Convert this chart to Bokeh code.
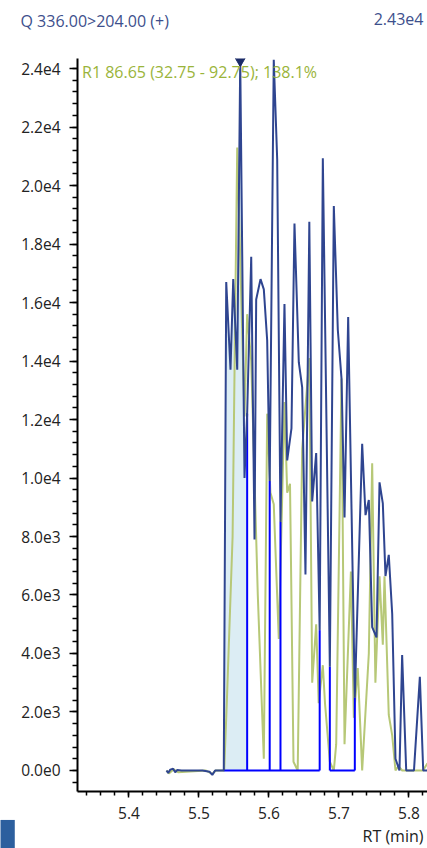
import math
from bokeh.plotting import figure
from bokeh.models import Range1d, FixedTicker, Label
from bokeh.embed import file_html
from bokeh.resources import INLINE

# ---------------- data ----------------
rt_blue = [5.4536, 5.4560, 5.4590, 5.4630, 5.4660, 5.4690, 5.4750, 5.4900, 5.5050, 5.5150,
           5.5190, 5.5230, 5.5354, 5.5389, 5.5450, 5.5489, 5.5546, 5.5589, 5.5650, 5.5688,
           5.5746, 5.5793, 5.5817, 5.5879, 5.5926, 5.5974, 5.6010, 5.6068, 5.6117, 5.6164,
           5.6221, 5.6260, 5.6321, 5.6364, 5.6426, 5.6474, 5.6521, 5.6576, 5.6617, 5.6674,
           5.6724, 5.6769, 5.6869, 5.6926, 5.6983, 5.7036, 5.7079, 5.7131, 5.7226, 5.7331,
           5.7379, 5.7426, 5.7474, 5.7536, 5.7579, 5.7626, 5.7664, 5.7711, 5.7760, 5.7807,
           5.7864, 5.7902, 5.7960, 5.8071, 5.8155, 5.8203, 5.8280]
int_blue = [0, -80, 30, 60, -60, 20, 0, 0, 0, -40,
            -150, 0, 0, 16700, 13700, 16800, 13700, 24300, 10000, 12200,
            17560, 7900, 16100, 16800, 16450, 14700, 9900, 24300, 20900, 8500,
            15950, 10600, 11700, 18700, 13950, 13100, 6700, 18760, 9200, 10850,
            4800, 20930, 3550, 19300, 15070, 13400, 8650, 15500, 2500, 11170,
            8730, 9250, 4900, 4550, 9850, 9130, 6650, 7370, 5360, 400,
            0, 3950, 0, 0, 3200, 0, 0]

rt_green = [5.4536, 5.4570, 5.4640, 5.4700, 5.5100, 5.5190, 5.5240, 5.5360, 5.5400, 5.5480,
            5.5521, 5.5546, 5.5650, 5.5688, 5.5746, 5.5840, 5.5926, 5.5974, 5.6020, 5.6068,
            5.6140, 5.6221, 5.6260, 5.6300, 5.6350, 5.6410, 5.6474, 5.6576, 5.6617, 5.6674,
            5.6710, 5.6769, 5.6800, 5.6869, 5.6926, 5.6960, 5.7036, 5.7079, 5.7170, 5.7212,
            5.7268, 5.7331, 5.7426, 5.7474, 5.7520, 5.7579, 5.7626, 5.7650, 5.7711, 5.7760,
            5.7807, 5.7850, 5.7902, 5.8200, 5.8264]
int_green = [0, -100, 40, -60, 0, -120, 0, 0, 2500, 8000,
             16400, 21300, 12100, 15600, 14000, 6000, 400, 12200, 9500, 9100,
             4500, 12600, 9500, 9800, 300, 0, 11000, 14100, 3000, 5000,
             2300, 3600, 2300, 300, 0, 900, 13400, 900, 6800, 1800,
             3500, 0, 4000, 10500, 3000, 6640, 4300, 6640, 1900, 1200,
             0, 150, 0, 0, 250]

drop_rt = [5.5688, 5.6010, 5.6164, 5.6724, 5.6869, 5.7226]
drop_int = [12200, 9900, 8500, 4800, 3550, 2500]
base_start = [5.5354, 5.6869]
base_end = [5.6724, 5.7226]
fill_start, fill_end = 5.5354, 5.5688

x_major = [5.4, 5.5, 5.6, 5.7, 5.8]
x_minor = [round(5.34 + 0.02 * i, 2) for i in range(25)]
y_major = [2000 * i for i in range(13)]
y_minor = [400 * i for i in range(-1, 61)]

header_left = "Q 336.00>204.00 (+)"
header_right = "2.43e4"
annotation = "R1 86.65 (32.75 - 92.75); 138.1%"
x_title = "RT (min)"

FONT = "Open Sans"

def sci(v):
    if v == 0:
        return "0.0e0"
    e = int(math.floor(math.log10(abs(v))))
    m = v / 10 ** e
    return f"{m:.1f}e{e}"

# ---------------- figure ----------------
p = figure(width=427, height=848, output_backend="svg", toolbar_location=None,
           x_range=Range1d(5.32643, 5.82643), y_range=Range1d(-718, 24342),
           min_border_left=77, min_border_right=0, min_border_top=58, min_border_bottom=57)
p.outline_line_color = None
p.grid.visible = False
p.background_fill_color = "white"
p.border_fill_color = "white"

for ax in (p.xaxis[0], p.yaxis[0]):
    ax.axis_line_color = "black"
    ax.axis_line_width = 2
    ax.major_tick_line_color = "black"
    ax.minor_tick_line_color = "black"
    ax.major_tick_line_width = 1.5
    ax.minor_tick_line_width = 1.5
    ax.major_tick_in = 0
    ax.minor_tick_in = 0
    ax.major_label_text_font = FONT
    ax.major_label_text_font_size = "15.5px"
    ax.major_label_text_color = "#222222"

xa = p.xaxis[0]
xa.ticker = FixedTicker(ticks=x_major, minor_ticks=x_minor)
xa.major_tick_out = 6
xa.minor_tick_out = 4
xa.major_label_standoff = 9
xa.major_label_overrides = {v: f"{v:.1f}" for v in x_major}

ya = p.yaxis[0]
ya.ticker = FixedTicker(ticks=y_major, minor_ticks=y_minor)
ya.major_tick_out = 8
ya.minor_tick_out = 5
ya.major_label_standoff = 9
ya.major_label_overrides = {v: sci(v) for v in y_major}

# integrated area fill
fx = [r for r in rt_blue if fill_start <= r <= fill_end]
fy = [v for r, v in zip(rt_blue, int_blue) if fill_start <= r <= fill_end]
p.varea(x=fx, y1=[0] * len(fx), y2=fy, fill_color="#dcedf4")

# qualifier trace (green)
p.line(rt_green, int_green, line_color="#b7c877", line_width=2)

# integration baseline and drop lines
p.segment(x0=base_start, y0=[0] * len(base_start), x1=base_end, y1=[0] * len(base_end),
          line_color="#0000ff", line_width=2)
p.segment(x0=drop_rt, y0=[0] * len(drop_rt), x1=drop_rt, y1=drop_int,
          line_color="#0000ff", line_width=2)

# quantifier trace (blue)
p.line(rt_blue, int_blue, line_color="#2f4590", line_width=2)

# apex marker
imax = max(range(len(int_blue)), key=lambda i: int_blue[i])
p.scatter(x=[rt_blue[imax]], y=[int_blue[imax]], marker="inverted_triangle", size=12,
          fill_color="#1b2b68", line_color="#1b2b68")

# annotation inside the frame
p.add_layout(Label(x=4.5, y=720, x_units="screen", y_units="screen", text=annotation,
                   text_font=FONT, text_font_size="16px", text_color="#9ab43a",
                   text_align="left", text_baseline="middle"))

# header texts in the top side panels (each label gets its own stacked panel)
p.add_layout(Label(x=-57, y=38, x_units="screen", y_units="screen", text=header_left,
                   text_font=FONT, text_font_size="16px", text_color="#3d4f8c",
                   text_align="left", text_baseline="middle"), "above")
p.add_layout(Label(x=346, y=18, x_units="screen", y_units="screen", text=header_right,
                   text_font=FONT, text_font_size="16px", text_color="#3d4f8c",
                   text_align="right", text_baseline="middle"), "above")
# x title below the x axis
p.add_layout(Label(x=346, y=8, x_units="screen", y_units="screen", text=x_title,
                   text_font=FONT, text_font_size="16px", text_color="#222222",
                   text_align="right", text_baseline="middle"), "below")
# small tab at bottom-left corner (in the left side panel, outside the axis)
p.add_layout(Label(x=-4, y=-43, x_units="screen", y_units="screen", text=" ",
                   text_font_size="1px", text_align="left", text_baseline="middle",
                   background_fill_color="#2c5f9e", padding=(7, 7, 14, 14)), "left")

open("out.html", "w").write(file_html(p, INLINE))
